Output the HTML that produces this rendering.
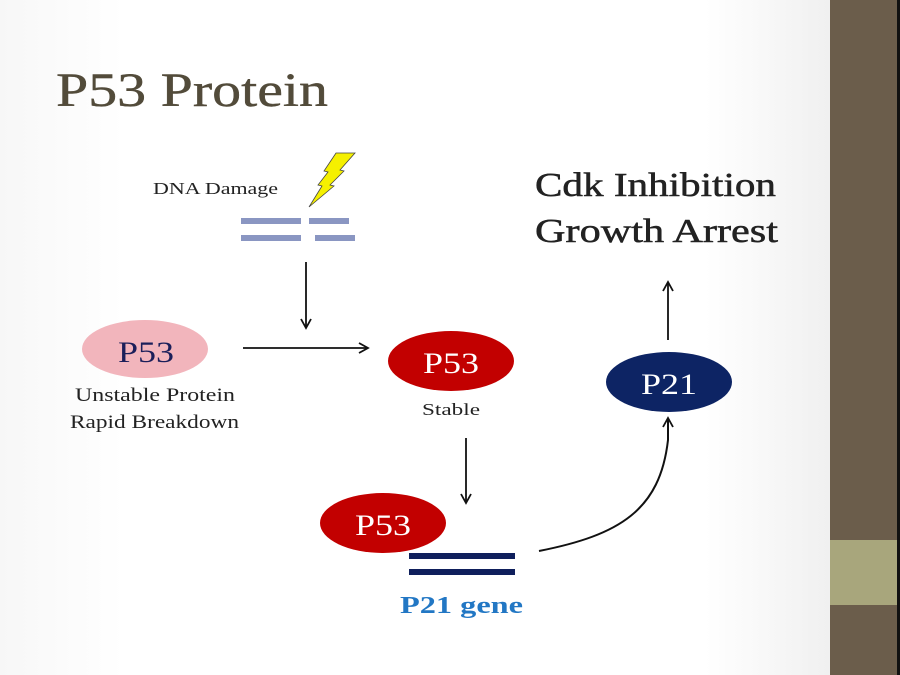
<!DOCTYPE html>
<html><head><meta charset="utf-8"><style>
html,body{margin:0;padding:0;width:900px;height:675px;overflow:hidden;background:#fff}
</style></head><body>
<svg width="900" height="675" xmlns="http://www.w3.org/2000/svg" font-family="Liberation Serif, serif">
<defs>
<linearGradient id="bg" x1="0" x2="1" y1="0" y2="0">
<stop offset="0" stop-color="#f7f7f7"/><stop offset="0.15" stop-color="#fff"/><stop offset="0.85" stop-color="#fff"/><stop offset="1" stop-color="#f0f0f0"/>
</linearGradient>
<marker id="ar" markerWidth="12" markerHeight="12" refX="10" refY="6" orient="auto" markerUnits="userSpaceOnUse">
<path d="M1,1 L10,6 L1,11" fill="none" stroke="#111" stroke-width="1.8"/>
</marker>
</defs>
<rect x="0" y="0" width="830" height="675" fill="url(#bg)"/>
<rect x="830" y="0" width="68" height="675" fill="#6b5d4b"/>
<rect x="830" y="540" width="68" height="65" fill="#a8a67c"/>
<rect x="897" y="0" width="3" height="675" fill="#111"/>

<text x="56" y="106" font-size="48" fill="#524b3a" textLength="272" lengthAdjust="spacingAndGlyphs" stroke="#524b3a" stroke-width="0.4">P53 Protein</text>

<text x="153" y="194" font-size="17" fill="#222" textLength="125" lengthAdjust="spacingAndGlyphs">DNA Damage</text>
<polygon points="336,153 355,153 340,170 344,171 330,185 334,186 309,207 322,186 318,185 328,172 324,171" fill="#f5f000" stroke="#444" stroke-width="0.8"/>
<rect x="241" y="218" width="60" height="6" fill="#8a96c2"/>
<rect x="309" y="218" width="40" height="6" fill="#8a96c2"/>
<rect x="241" y="235" width="60" height="6" fill="#8a96c2"/>
<rect x="315" y="235" width="40" height="6" fill="#8a96c2"/>

<line x1="306" y1="262" x2="306" y2="328" stroke="#111" stroke-width="1.8" marker-end="url(#ar)"/>
<line x1="243" y1="348" x2="368" y2="348" stroke="#111" stroke-width="1.8" marker-end="url(#ar)"/>

<ellipse cx="145" cy="349" rx="63" ry="29" fill="#f2b5bc"/>
<text x="118" y="362" font-size="30" fill="#1b1f5a" textLength="56" lengthAdjust="spacingAndGlyphs">P53</text>
<text x="75" y="401" font-size="19" fill="#222" textLength="160" lengthAdjust="spacingAndGlyphs">Unstable Protein</text>
<text x="70" y="428" font-size="19" fill="#222" textLength="169" lengthAdjust="spacingAndGlyphs">Rapid Breakdown</text>

<ellipse cx="451" cy="361" rx="63" ry="30" fill="#c20000"/>
<text x="423" y="373" font-size="30" fill="#fff" textLength="56" lengthAdjust="spacingAndGlyphs">P53</text>
<text x="422" y="415" font-size="17" fill="#222" textLength="58" lengthAdjust="spacingAndGlyphs">Stable</text>

<line x1="466" y1="438" x2="466" y2="503" stroke="#111" stroke-width="1.8" marker-end="url(#ar)"/>

<ellipse cx="383" cy="523" rx="63" ry="30" fill="#c20000"/>
<text x="355" y="535" font-size="30" fill="#fff" textLength="56" lengthAdjust="spacingAndGlyphs">P53</text>
<rect x="409" y="553" width="106" height="6" fill="#0f1f5c"/>
<rect x="409" y="569" width="106" height="6" fill="#0f1f5c"/>
<text x="400" y="613" font-size="24" font-weight="bold" fill="#2277c4" textLength="123" lengthAdjust="spacingAndGlyphs">P21 gene</text>

<path d="M539,551 C620,535 660,510 668,440 L668,418" fill="none" stroke="#111" stroke-width="2" marker-end="url(#ar)"/>

<ellipse cx="669" cy="382" rx="63" ry="30" fill="#0d2464"/>
<text x="641" y="394" font-size="30" fill="#fff" textLength="56" lengthAdjust="spacingAndGlyphs">P21</text>

<line x1="668" y1="340" x2="668" y2="282" stroke="#111" stroke-width="1.8" marker-end="url(#ar)"/>

<text x="535" y="196" font-size="34" fill="#222" textLength="241" lengthAdjust="spacingAndGlyphs" stroke="#222" stroke-width="0.5">Cdk Inhibition</text>
<text x="535" y="242" font-size="34" fill="#222" textLength="243" lengthAdjust="spacingAndGlyphs" stroke="#222" stroke-width="0.5">Growth Arrest</text>
</svg>
</body></html>
